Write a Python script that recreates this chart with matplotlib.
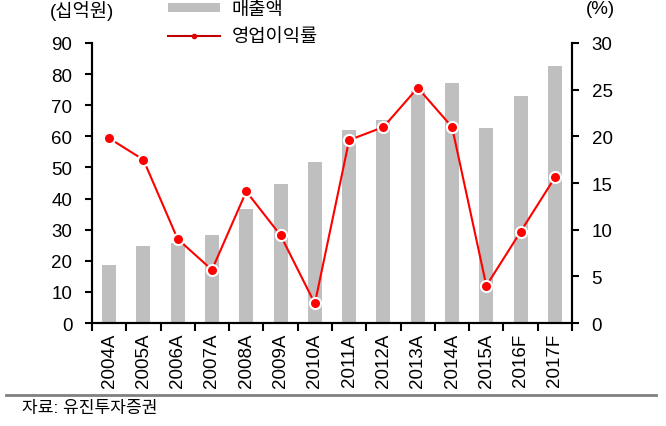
import matplotlib
matplotlib.use('Agg')
import matplotlib.pyplot as plt
from matplotlib.patches import Patch
from matplotlib.lines import Line2D
import numpy as np

plt.rcParams['font.family'] = ['Liberation Sans', 'Noto Sans CJK KR', 'DejaVu Sans']

years = ['2004A', '2005A', '2006A', '2007A', '2008A', '2009A', '2010A',
         '2011A', '2012A', '2013A', '2014A', '2015A', '2016F', '2017F']
sales = [18.7, 24.9, 25.8, 28.2, 36.5, 44.7, 51.7,
         62.2, 65.4, 74.5, 77.3, 62.8, 72.9, 82.5]
op_margin = [19.8, 17.5, 9.0, 5.7, 14.1, 9.4, 2.1,
             19.6, 21.0, 25.2, 21.0, 4.0, 9.8, 15.6]

bar_color = '#bfbfbf'
line_color = '#ff0000'

fig = plt.figure(figsize=(6.66, 4.27), dpi=100)
ax = fig.add_axes([0.138, 0.241, 0.721, 0.656])
ax2 = ax.twinx()

x = np.arange(len(years)) + 0.5
ax.bar(x, sales, width=0.41, color=bar_color, zorder=1)
ax2.plot(x, op_margin, color=line_color, lw=1.5, marker='o', markersize=8,
         markerfacecolor=line_color, markeredgecolor='white', markeredgewidth=1.5,
         zorder=3)

ax.set_xlim(0, len(years))
ax.set_ylim(0, 90)
ax2.set_ylim(0, 30)
ax.set_yticks(range(0, 91, 10))
ax2.set_yticks(range(0, 31, 5))

# ticks between categories, labels at the centres
ax.set_xticks(np.arange(len(years) + 1))
ax.set_xticklabels([])
ax.set_xticks(x, minor=True)
ax.set_xticklabels(years, minor=True, rotation=90, fontsize=13.5)
ax.tick_params(axis='x', which='major', direction='out', length=6, width=1.5)
ax.tick_params(axis='x', which='minor', length=0, pad=7)
ax.tick_params(axis='y', direction='out', length=5, width=1.5, labelsize=13.5, pad=9)
ax2.tick_params(axis='y', direction='out', length=5, width=1.5, labelsize=13.5, pad=9)

for a in (ax, ax2):
    a.spines['top'].set_visible(False)
    for s in ('left', 'right', 'bottom'):
        a.spines[s].set_linewidth(1.5)
        a.spines[s].set_color('black')

fig.text(50 / 666, 1 - 11 / 427, '(십억원)', fontsize=13.5, va='center', ha='left')
fig.text(586 / 666, 1 - 10 / 427, '(%)', fontsize=13.5, va='center', ha='left')

handles = [Patch(facecolor=bar_color, edgecolor='none'),
           Line2D([], [], color='#c00000', lw=1.5, marker='o', markersize=3,
                  markerfacecolor='#e00000', markeredgecolor='#e00000')]
fig.legend(handles, ['매출액', '영업이익률'], loc='upper left',
           bbox_to_anchor=(168 / 666, 1 - 2 / 427), frameon=False,
           fontsize=13.5, handlelength=2.8, handleheight=0.35,
           handletextpad=0.6, labelspacing=0.55, borderpad=0, borderaxespad=0)

fig.add_artist(Line2D([6 / 666, 656 / 666], [1 - 396 / 427, 1 - 396 / 427],
                      color='#808080', lw=2, transform=fig.transFigure))
fig.text(22 / 666, 1 - 409 / 427, '자료: 유진투자증권', fontsize=12.3,
         va='center', ha='left')

fig.savefig('out.png', dpi=100)
